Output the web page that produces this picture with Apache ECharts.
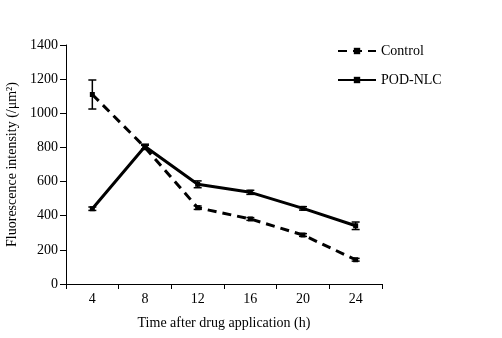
<!DOCTYPE html>
<html><head><meta charset="utf-8">
<script src="https://cdn.jsdelivr.net/npm/echarts@6/dist/echarts.min.js"></script>
<style>html,body{margin:0;padding:0;background:#fff}#c{width:502px;height:338px}</style>
</head><body><div id="c"></div>
<script>
var categories = ['4','8','12','16','20','24'];
var controlValues = [1110, 800, 447, 381, 287, 142];
var controlErrors = [85, 12, 10, 8, 8, 8];
var podValues = [441, 805, 584, 537, 443, 341];
var podErrors = [10, 14, 20, 12, 10, 22];
var yTicks = [0,200,400,600,800,1000,1200,1400];

var font = 'Liberation Serif, Times New Roman, serif';
function errData(vals, errs){ return vals.map(function(v,i){ return [i, v-errs[i], v+errs[i]]; }); }
function errRender(params, api){
  var x = api.value(0);
  var lo = api.coord([x, api.value(1)]);
  var hi = api.coord([x, api.value(2)]);
  var w = 4;
  var st = {stroke:'#000', lineWidth:1.5};
  return {type:'group', children:[
    {type:'line', shape:{x1:lo[0],y1:lo[1],x2:hi[0],y2:hi[1]}, style:st},
    {type:'line', shape:{x1:lo[0]-w,y1:lo[1],x2:lo[0]+w,y2:lo[1]}, style:st},
    {type:'line', shape:{x1:hi[0]-w,y1:hi[1],x2:hi[0]+w,y2:hi[1]}, style:st}
  ]};
}
var chart = echarts.init(document.getElementById('c'));
chart.setOption({
  animation:false,
  backgroundColor:'#fff',
  grid:{left:66, right:120, top:45, bottom:54, containLabel:false, outerBoundsMode:'none'},
  legend:{
    left:332, top:39, orient:'vertical', itemGap:15, itemWidth:38, itemHeight:8,
    textStyle:{fontFamily:font, fontSize:14, color:'#000'},
    data:['Control','POD-NLC']
  },
  xAxis:{
    type:'category', data:categories, boundaryGap:true,
    axisLine:{lineStyle:{color:'#000', width:1}},
    axisTick:{show:true, inside:false, length:5, lineStyle:{color:'#000'}},
    axisLabel:{fontFamily:font, fontSize:14, color:'#000', margin:8},
    name:'Time after drug application (h)', nameLocation:'middle', nameGap:32,
    nameTextStyle:{fontFamily:font, fontSize:14, color:'#000'}
  },
  yAxis:{
    type:'value', min:0, max:1400, interval:200,
    axisLine:{show:true, lineStyle:{color:'#000', width:1}},
    axisTick:{show:true, length:6, lineStyle:{color:'#000'}},
    splitLine:{show:false},
    axisLabel:{fontFamily:font, fontSize:14, color:'#000', margin:8, formatter:function(v){return String(v);}},
    name:'Fluorescence intensity (/μm²)', nameLocation:'middle', nameGap:41, nameRotate:90,
    nameTextStyle:{fontFamily:font, fontSize:14, color:'#000'}
  },
  series:[
    {name:'Control', type:'line', data:controlValues, symbol:'rect', symbolSize:5,
     lineStyle:{color:'#000', width:3, type:[9,6]}, itemStyle:{color:'#000'}, z:3},
    {name:'POD-NLC', type:'line', data:podValues, symbol:'rect', symbolSize:5,
     lineStyle:{color:'#000', width:3}, itemStyle:{color:'#000'}, z:3},
    {type:'custom', renderItem:errRender, data:errData(controlValues, controlErrors), z:4, silent:true},
    {type:'custom', renderItem:errRender, data:errData(podValues, podErrors), z:4, silent:true}
  ]
});
</script></body></html>
